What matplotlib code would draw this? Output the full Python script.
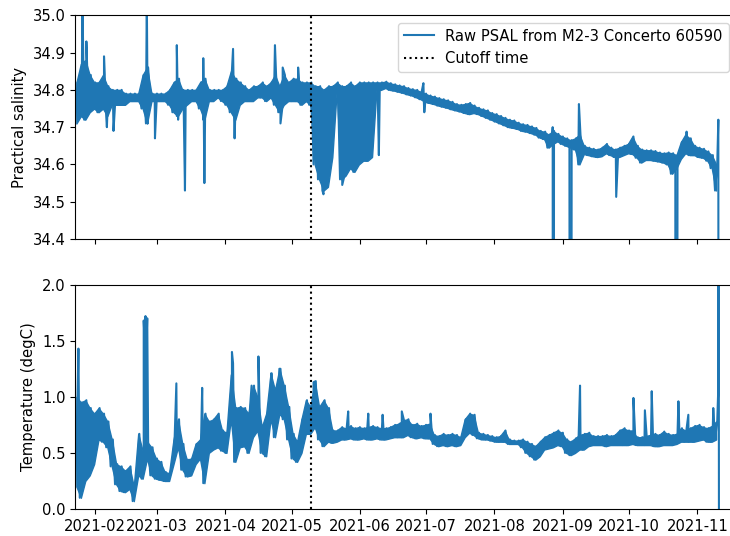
import numpy as np
import pandas as pd
import matplotlib
matplotlib.use("Agg")
import matplotlib.pyplot as plt

plt.rcParams["font.size"] = 10.6

start = pd.Timestamp("2021-01-23")
cutoff = pd.Timestamp("2021-05-10")
x_end = pd.Timestamp("2021-11-18 12:00")

# sampling grid (days after start); each bin has a low and a high reading
days = np.arange(0, 291, 2)

psal_lo = [34.71, 34.73, 34.72, 34.74, 34.75, 34.74, 34.75, 34.73, 34.76, 34.76,
           34.76, 34.76, 34.77, 34.77, 34.77, 34.75, 34.71, 34.77, 34.77, 34.77,
           34.77, 34.76, 34.74, 34.73, 34.75, 34.76, 34.77, 34.77, 34.75, 34.72,
           34.77, 34.77, 34.78, 34.77, 34.76, 34.74, 34.72, 34.76, 34.77, 34.77,
           34.77, 34.78, 34.78, 34.77, 34.78, 34.76, 34.74, 34.76, 34.77, 34.77,
           34.77, 34.76, 34.77, 34.76, 34.60, 34.56, 34.53, 34.54, 34.62, 34.80,
           34.56, 34.57, 34.59, 34.58, 34.60, 34.61, 34.61, 34.62, 34.80, 34.80,
           34.805, 34.800, 34.798, 34.795, 34.792, 34.788, 34.785, 34.780, 34.775, 34.768,
           34.765, 34.762, 34.758, 34.755, 34.752, 34.748, 34.745, 34.742, 34.738, 34.735,
           34.738, 34.735, 34.730, 34.725, 34.720, 34.715, 34.710, 34.705, 34.700, 34.698,
           34.695, 34.690, 34.688, 34.684, 34.680, 34.672, 34.668, 34.645, 34.655, 34.662,
           34.655, 34.650, 34.645, 34.640, 34.600, 34.628, 34.625, 34.622, 34.620, 34.622,
           34.630, 34.625, 34.620, 34.620, 34.625, 34.630, 34.628, 34.618, 34.605, 34.612,
           34.612, 34.610, 34.608, 34.605, 34.600, 34.575, 34.590, 34.615, 34.630, 34.625,
           34.625, 34.620, 34.618, 34.610, 34.590, 34.530]
psal_hi = [34.82, 34.87, 34.88, 34.84, 34.82, 34.82, 34.84, 34.81, 34.80, 34.80,
           34.80, 34.79, 34.79, 34.79, 34.79, 34.84, 34.86, 34.79, 34.79, 34.79,
           34.79, 34.80, 34.82, 34.83, 34.80, 34.80, 34.80, 34.80, 34.82, 34.83,
           34.80, 34.80, 34.80, 34.80, 34.81, 34.85, 34.83, 34.82, 34.81, 34.80,
           34.81, 34.81, 34.82, 34.81, 34.82, 34.84, 34.81, 34.84, 34.82, 34.83,
           34.83, 34.82, 34.82, 34.82, 34.81, 34.81, 34.80, 34.81, 34.81, 34.82,
           34.81, 34.81, 34.82, 34.81, 34.82, 34.82, 34.82, 34.82, 34.82, 34.82,
           34.822, 34.818, 34.815, 34.812, 34.810, 34.805, 34.802, 34.800, 34.795, 34.790,
           34.785, 34.782, 34.778, 34.775, 34.772, 34.768, 34.762, 34.760, 34.762, 34.765,
           34.758, 34.752, 34.748, 34.745, 34.738, 34.735, 34.730, 34.725, 34.720, 34.718,
           34.712, 34.708, 34.706, 34.702, 34.698, 34.690, 34.688, 34.680, 34.690, 34.682,
           34.675, 34.670, 34.665, 34.670, 34.680, 34.650, 34.645, 34.642, 34.640, 34.645,
           34.655, 34.645, 34.640, 34.645, 34.650, 34.655, 34.675, 34.650, 34.640, 34.638,
           34.638, 34.636, 34.632, 34.630, 34.632, 34.630, 34.625, 34.660, 34.680, 34.670,
           34.650, 34.645, 34.642, 34.635, 34.625, 34.600]
psal_spike_days = [3.2, 5.0, 13.0, 14.3, 17.3, 32.4, 32.8, 36.1, 46.0, 46.6,
                   49.7, 58.0, 58.5, 71.5, 72.2, 90.5, 93.0, 94.0, 101.0, 112.5,
                   121.0, 137.6, 157.8, 158.2, 216.4, 216.7, 224.5, 228.3, 245.2, 272.2,
                   277.1, 291.5, 291.8]
psal_spike_vals = [35.05, 34.93, 34.89, 34.70, 34.69, 35.05, 34.71, 34.67, 34.92, 34.72,
                   34.53, 34.885, 34.55, 34.91, 34.67, 34.92, 34.71, 34.86, 34.86, 34.52,
                   34.545, 34.625, 34.818, 34.74, 34.70, 30.0, 30.0, 34.762, 34.513, 30.0,
                   34.688, 34.72, 30.0]

temp_lo = [0.20, 0.10, 0.25, 0.30, 0.40, 0.62, 0.60, 0.55, 0.38, 0.22,
           0.16, 0.15, 0.18, 0.07, 0.30, 0.27, 0.45, 0.30, 0.27, 0.26,
           0.25, 0.25, 0.40, 0.55, 0.35, 0.29, 0.30, 0.40, 0.45, 0.23,
           0.50, 0.53, 0.55, 0.52, 0.50, 0.80, 0.42, 0.55, 0.56, 0.50,
           0.64, 0.70, 0.50, 0.47, 0.80, 0.64, 0.85, 0.80, 0.62, 0.45,
           0.42, 0.50, 0.67, 0.67, 0.73, 0.62, 0.56, 0.60, 0.59, 0.60,
           0.62, 0.62, 0.63, 0.62, 0.62, 0.63, 0.62, 0.62, 0.63, 0.62,
           0.62, 0.63, 0.64, 0.64, 0.64, 0.66, 0.64, 0.63, 0.64, 0.63,
           0.63, 0.58, 0.56, 0.57, 0.56, 0.57, 0.56, 0.57, 0.64, 0.68,
           0.66, 0.63, 0.62, 0.62, 0.61, 0.60, 0.60, 0.60, 0.58, 0.58,
           0.58, 0.55, 0.50, 0.47, 0.44, 0.47, 0.53, 0.54, 0.55, 0.57,
           0.56, 0.50, 0.48, 0.50, 0.53, 0.53, 0.56, 0.57, 0.57, 0.57,
           0.56, 0.57, 0.57, 0.57, 0.57, 0.57, 0.58, 0.57, 0.57, 0.57,
           0.57, 0.56, 0.56, 0.57, 0.57, 0.57, 0.58, 0.60, 0.60, 0.60,
           0.60, 0.61, 0.62, 0.60, 0.60, 0.62]
temp_hi = [1.00, 0.95, 0.97, 0.90, 0.85, 0.90, 0.85, 0.78, 0.62, 0.40,
           0.38, 0.34, 0.38, 0.20, 0.67, 0.52, 0.60, 0.55, 0.45, 0.42,
           0.33, 0.32, 0.62, 0.80, 0.58, 0.44, 0.45, 0.58, 0.62, 0.85,
           0.78, 0.80, 0.85, 0.70, 0.68, 1.20, 0.90, 0.91, 0.90, 0.85,
           1.10, 1.00, 0.73, 0.85, 1.21, 1.06, 1.25, 1.10, 0.91, 0.67,
           0.60, 0.80, 0.97, 0.91, 1.14, 0.91, 0.97, 0.90, 0.70, 0.70,
           0.73, 0.72, 0.74, 0.72, 0.73, 0.72, 0.73, 0.74, 0.73, 0.72,
           0.72, 0.73, 0.75, 0.76, 0.79, 0.80, 0.75, 0.76, 0.74, 0.75,
           0.76, 0.66, 0.65, 0.67, 0.66, 0.67, 0.66, 0.64, 0.80, 0.85,
           0.84, 0.68, 0.67, 0.66, 0.65, 0.64, 0.65, 0.70, 0.62, 0.61,
           0.61, 0.62, 0.60, 0.58, 0.56, 0.60, 0.64, 0.66, 0.68, 0.70,
           0.68, 0.62, 0.60, 0.63, 0.66, 0.67, 0.68, 0.65, 0.65, 0.65,
           0.66, 0.65, 0.66, 0.70, 0.72, 0.70, 0.70, 0.64, 0.64, 0.65,
           0.66, 0.67, 0.66, 0.69, 0.67, 0.66, 0.67, 0.72, 0.70, 0.72,
           0.74, 0.75, 0.73, 0.72, 0.74, 0.78]
temp_spike_days = [1.4, 31.0, 31.4, 31.8, 32.2, 32.6, 45.8, 57.5, 71.0, 71.5,
                   79.9, 83.0, 88.8, 92.5, 108.0, 123.7, 132.8, 139.3, 148.0, 161.0,
                   228.8, 253.0, 258.2, 261.3, 273.4, 277.9, 289.2, 291.4, 291.6, 291.8]
temp_spike_vals = [1.43, 1.68, 1.50, 1.72, 1.45, 1.70, 1.12, 1.08, 1.40, 1.30,
                   1.10, 1.36, 1.21, 1.25, 1.13, 0.87, 0.85, 0.84, 0.87, 0.85,
                   1.10, 0.99, 0.88, 1.05, 0.96, 0.84, 0.90, 1.03, 5.0, -1.0]


def series(lo, hi, sp_days, sp_vals):
    t = np.concatenate([days, days + 1, sp_days])
    v = np.concatenate([lo, hi, sp_vals])
    order = np.argsort(t, kind="stable")
    return start + pd.to_timedelta(t[order], unit="D"), v[order]


t_psal, psal = series(psal_lo, psal_hi, psal_spike_days, psal_spike_vals)
t_temp, temp = series(temp_lo, temp_hi, temp_spike_days, temp_spike_vals)
t_bins = start + pd.to_timedelta(days + 0.5, unit="D")

fig = plt.figure(figsize=(7.3, 5.36), dpi=100)
ax1 = fig.add_axes([0.1032, 0.5541, 0.905, 0.4173])
ax2 = fig.add_axes([0.1032, 0.0504, 0.905, 0.4185], sharex=ax1)

ax1.fill_between(t_bins, psal_lo, psal_hi, color="C0", lw=1.0)
ax1.plot(t_psal, psal, color="C0", label="Raw PSAL from M2-3 Concerto 60590")
ax1.axvline(cutoff, color="k", ls=":", label="Cutoff time")
ax1.set_ylim(34.4, 35.0)
ax1.set_ylabel("Practical salinity")
ax1.legend(loc="upper right")
ax1.tick_params(labelbottom=False)

ax2.fill_between(t_bins, temp_lo, temp_hi, color="C0", lw=1.0)
ax2.plot(t_temp, temp, color="C0")
ax2.axvline(cutoff, color="k", ls=":")
ax2.set_ylim(0, 2.0)
ax2.set_yticks([0.0, 0.5, 1.0, 1.5, 2.0])
ax2.set_ylabel("Temperature (degC)")

ax1.set_xlim(start, x_end)

fig.savefig("out.png", dpi=100)
